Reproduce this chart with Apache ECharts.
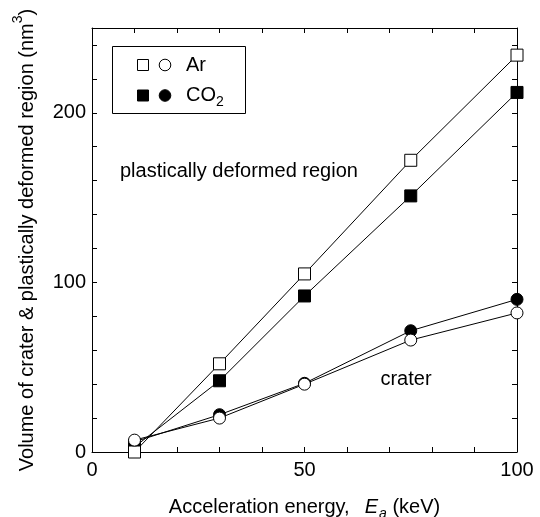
<!DOCTYPE html>
<html>
<head>
<meta charset="utf-8">
<script src="https://cdn.jsdelivr.net/npm/echarts@6/dist/echarts.min.js"></script>
<style>
html,body{margin:0;padding:0;background:#fff;}
#chart{width:540px;height:517px;}
</style>
</head>
<body>
<div id="chart"></div>
<script>
// Data
const energy = [10, 30, 50, 75, 100];            // Acceleration energy Ea (keV)
const arPlastic = [0, 52, 105, 172, 234];        // Ar, plastically deformed region (nm^3)
const co2Plastic = [3, 42, 92, 151, 212];        // CO2, plastically deformed region
const arCrater = [7, 20, 40, 66, 82];            // Ar, crater
const co2Crater = [6, 22, 40.5, 71.5, 90];       // CO2, crater
const xTickLabels = [0, 50, 100];
const yTickLabels = [0, 100, 200];

const FONT = 'Liberation Sans, Arial, sans-serif';
const pair = (xs, ys) => xs.map((x, i) => [x, ys[i]]);

const axisLine = {show: true, onZero: false, lineStyle: {color: '#000', width: 1}};
const axisTick = {show: true, inside: true, length: 5, lineStyle: {color: '#000', width: 1}};

function lineSeries(name, data, symbol, filled) {
  return {
    name: name,
    type: 'line',
    data: data,
    symbol: symbol,
    symbolSize: 12,
    showAllSymbol: true,
    lineStyle: {color: '#000', width: 1},
    itemStyle: filled ? {color: '#000', borderColor: '#000', borderWidth: 1}
                      : {color: '#fff', borderColor: '#000', borderWidth: 1},
    emphasis: {disabled: true},
    animation: false
  };
}

const chart = echarts.init(document.getElementById('chart'), null, {renderer: 'canvas'});
chart.setOption({
  backgroundColor: '#fff',
  animation: false,
  grid: {left: 92, right: 23, top: 28, bottom: 65, containLabel: false, outerBoundsMode: 'none'},
  xAxis: [{
    type: 'value', position: 'bottom', min: 0, max: 100, interval: 10,
    axisLine: axisLine, axisTick: axisTick, splitLine: {show: false},
    axisLabel: {
      color: '#000', fontSize: 20, fontFamily: FONT, margin: 8,
      showMinLabel: true, showMaxLabel: true,
      formatter: v => xTickLabels.indexOf(v) >= 0 ? String(v) : ''
    },
    name: '{a|Acceleration energy,  }{i|E}{j|a}{a| (keV)}',
    nameLocation: 'middle', nameGap: 45,
    nameTextStyle: {
      color: '#000', fontFamily: FONT, fontSize: 20,
      rich: {
        a: {fontSize: 20, fontFamily: FONT, color: '#000', lineHeight: 20, verticalAlign: 'top'},
        i: {fontSize: 20, fontFamily: FONT, color: '#000', fontStyle: 'italic', lineHeight: 20, verticalAlign: 'top', padding: [0, 1, 0, 4]},
        j: {fontSize: 14, fontFamily: FONT, color: '#000', fontStyle: 'italic', lineHeight: 14, padding: [10, 0, 0, 0], verticalAlign: 'top'}
      }
    }
  }, {
    type: 'value', position: 'top', min: 0, max: 100, interval: 10,
    axisLine: axisLine, axisTick: axisTick, splitLine: {show: false},
    axisLabel: {show: false}
  }],
  yAxis: [{
    type: 'value', position: 'left', min: 0, max: 250, interval: 20,
    axisLine: axisLine, axisTick: axisTick, splitLine: {show: false},
    axisLabel: {
      color: '#000', fontSize: 20, fontFamily: FONT, margin: 6,
      showMinLabel: true, showMaxLabel: true,
      formatter: v => yTickLabels.indexOf(v) >= 0 ? String(v) : ''
    },
    name: '{a|Volume of crater & plastically deformed region (nm}{s|3}{a|)}',
    nameLocation: 'middle', nameGap: 55, nameRotate: 90,
    nameTextStyle: {
      color: '#000', fontFamily: FONT, fontSize: 20,
      rich: {
        a: {fontSize: 20, fontFamily: FONT, color: '#000', lineHeight: 20, verticalAlign: 'bottom'},
        s: {fontSize: 14, fontFamily: FONT, color: '#000', lineHeight: 14, padding: [0, 0, 12, 0], verticalAlign: 'bottom'}
      }
    }
  }, {
    type: 'value', position: 'right', min: 0, max: 250, interval: 20,
    axisLine: axisLine, axisTick: axisTick, splitLine: {show: false},
    axisLabel: {show: false}
  }],
  series: [
    lineSeries('CO2 plastically deformed region', pair(energy, co2Plastic), 'rect', true),
    lineSeries('CO2 crater', pair(energy, co2Crater), 'circle', true),
    lineSeries('Ar plastically deformed region', pair(energy, arPlastic), 'rect', false),
    lineSeries('Ar crater', pair(energy, arCrater), 'circle', false)
  ],
  graphic: [
    {type: 'rect', z: 20, shape: {x: 112.5, y: 46.5, width: 133, height: 67},
     style: {fill: '#fff', stroke: '#000', lineWidth: 1}},
    {type: 'rect', z: 21, shape: {x: 137.5, y: 59.5, width: 11, height: 11},
     style: {fill: '#fff', stroke: '#000', lineWidth: 1}},
    {type: 'circle', z: 21, shape: {cx: 165, cy: 65, r: 5.8},
     style: {fill: '#fff', stroke: '#000', lineWidth: 1}},
    {type: 'text', z: 21, x: 186, y: 65,
     style: {text: 'Ar', fontSize: 20, fontFamily: FONT, fill: '#000', verticalAlign: 'middle', align: 'left'}},
    {type: 'rect', z: 21, shape: {x: 137.5, y: 90, width: 11, height: 11},
     style: {fill: '#000', stroke: '#000', lineWidth: 1}},
    {type: 'circle', z: 21, shape: {cx: 165, cy: 95.5, r: 5.8},
     style: {fill: '#000', stroke: '#000', lineWidth: 1}},
    {type: 'text', z: 21, x: 186, y: 85.5,
     style: {text: '{a|CO}{b|2}', fill: '#000', align: 'left', verticalAlign: 'top',
       rich: {
         a: {fontSize: 20, fontFamily: FONT, fill: '#000', lineHeight: 20, verticalAlign: 'top'},
         b: {fontSize: 14, fontFamily: FONT, fill: '#000', lineHeight: 14, padding: [10, 0, 0, 0], verticalAlign: 'top'}
       }}},
    {type: 'text', z: 21, x: 120, y: 171,
     style: {text: 'plastically deformed region', fontSize: 20, fontFamily: FONT, fill: '#000', verticalAlign: 'middle', align: 'left'}},
    {type: 'text', z: 21, x: 406, y: 379,
     style: {text: 'crater', fontSize: 20, fontFamily: FONT, fill: '#000', verticalAlign: 'middle', align: 'center'}}
  ]
});
</script>
</body>
</html>
